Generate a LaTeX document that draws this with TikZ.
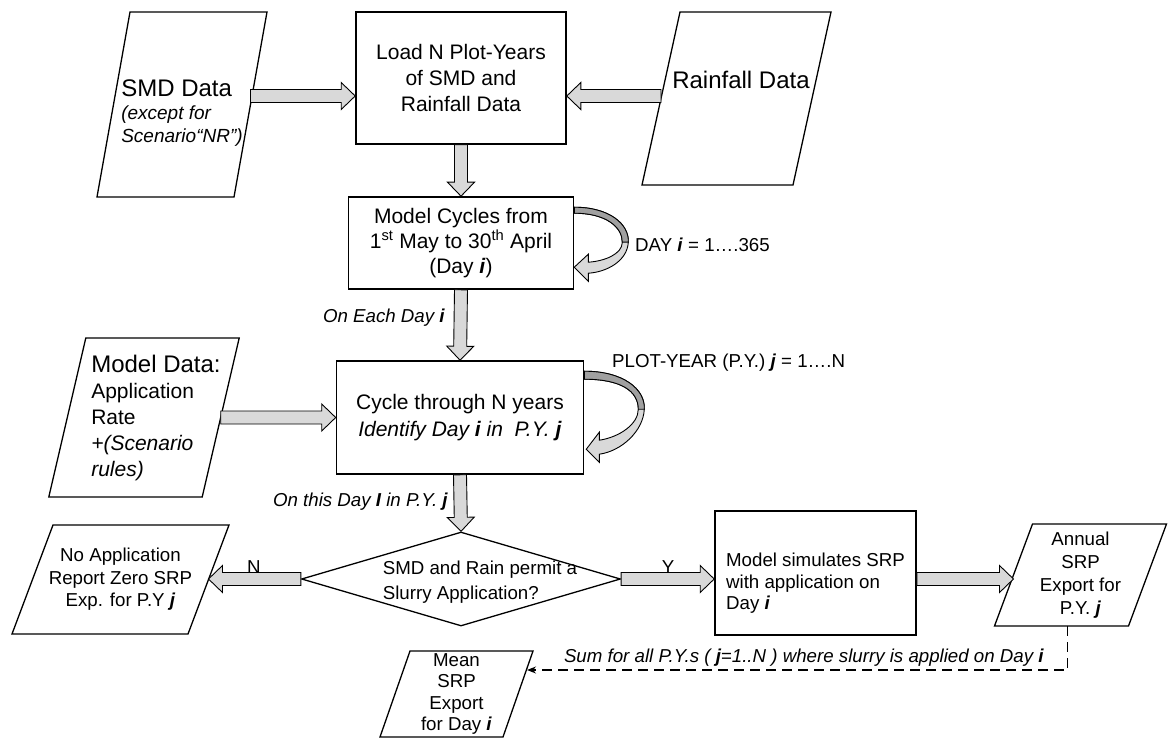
\documentclass[tikz,border=0pt]{standalone}
\usepackage{fontspec}
\setmainfont{Liberation Sans}
\usetikzlibrary{shapes.geometric,calc,arrows.meta}
\definecolor{arrowgray}{RGB}{217,217,217}
\definecolor{ribbongray}{RGB}{160,160,160}
\newcommand{\bi}[1]{\textbf{\textit{#1}}}
\newcommand{\ind}{\hspace*{24pt}}
% fat grey arrow between two points
\newcommand{\blockarrow}[2]{%
  \coordinate (ba-s) at (#1);
  \coordinate (ba-e) at (#2);
  \filldraw[blockarr] ($(ba-s)!6.5pt!90:(ba-e)$)
    -- ($(ba-e)!14pt!(ba-s)!6.5pt!90:(ba-e)$)
    -- ($(ba-e)!14pt!(ba-s)!13.5pt!90:(ba-e)$)
    -- (ba-e)
    -- ($(ba-e)!14pt!(ba-s)!13.5pt!-90:(ba-e)$)
    -- ($(ba-e)!14pt!(ba-s)!6.5pt!-90:(ba-e)$)
    -- ($(ba-s)!6.5pt!-90:(ba-e)$) -- cycle;}
% slanted data frame round a node, #2 = half of the slant
\newcommand{\slantframe}[2]{%
  \draw[dataline] ([xshift=-#2pt]#1.south west) -- ([xshift=#2pt]#1.north west)
    -- ([xshift=#2pt]#1.north east) -- ([xshift=-#2pt]#1.south east) -- cycle;}
\tikzset{
  procbox/.style={draw, rectangle, line width=1.6pt, inner sep=0pt, align=center,
    font=\fontsize{21}{26}\selectfont},
  databox/.style={rectangle, inner sep=0pt, outer sep=0pt,
    align=center, font=\fontsize{18.7}{22.5}\selectfont},
  dataline/.style={line width=1.3pt, line join=miter},
  lab/.style={inner sep=0pt, font=\fontsize{18.7}{22}\selectfont},
  blockarr/.style={fill=arrowgray, draw=black, line width=0.9pt, line join=miter},
  ribbon/.style={fill=arrowgray, draw=black, line width=0.9pt},
  sumline/.style={dashed, dash pattern=on 10pt off 6pt, line width=1.3pt, -{Stealth[length=9pt,width=7pt]}}
}
\begin{document}
\begin{tikzpicture}[x=1pt,y=-1pt]
\useasboundingbox (0,0) rectangle (1168,738);
% inputs
\node[databox, minimum width=137pt, minimum height=185pt, align=left,
  font=\fontsize{19}{22.5}\selectfont] (smd) at (182,104.5)
  {\rule{0pt}{33pt}{\fontsize{24}{24}\selectfont SMD Data}\\[1pt]\textit{(except for}\\\textit{Scenario“NR”)}};
\slantframe{smd}{16.5}
\node[procbox, minimum width=210pt, minimum height=132pt] (load) at (461,78)
  {Load N Plot-Years\\of SMD and\\Rainfall Data};
\node[databox, minimum width=151pt, minimum height=173pt,
  font=\fontsize{24}{28}\selectfont, text depth=38pt] (rain) at (736.5,98.5) {\hspace*{9pt}Rainfall Data};
\slantframe{rain}{19}
% main loop
\node[procbox, minimum width=225pt, minimum height=92pt, font=\fontsize{21}{25}\selectfont] (model) at (461,243)
  {Model Cycles from\\1\textsuperscript{st} May to 30\textsuperscript{th} April\\(Day \bi{i})};
\node[databox, minimum width=147pt, minimum height=159pt,
  align=left, font=\fontsize{21}{26}\selectfont] (mdata) at (144,417.5)
  {\ind{\fontsize{24}{26}\selectfont Model Data:}\\\ind Application\\\ind Rate\\\ind\textit{+(Scenario}\\\ind\textit{rules)}};
\slantframe{mdata}{18.5}
\node[procbox, minimum width=247pt, minimum height=113pt, font=\fontsize{21}{27}\selectfont] (cycle) at (460,417.5)
  {Cycle through N years\\\textit{Identify Day \textbf{i} in~ P.Y. \textbf{j}}};
% decision
\node[draw, diamond, line width=1.3pt, inner sep=0pt, minimum width=319pt, minimum height=94pt] (decide) at (461,579) {};
\node[lab, align=left, font=\fontsize{18.7}{25}\selectfont] (decidetxt) at (480,582)
  {SMD and Rain permit a\\Slurry Application?};
\node[databox, minimum width=176pt, minimum height=109pt] (noapp) at (120.5,579.5)
  {No Application\\Report Zero SRP\\Exp. for P.Y \bi{j}};
\slantframe{noapp}{20.5}
\node[procbox, minimum width=201pt, minimum height=124pt, align=left, font=\fontsize{18.7}{21.5}\selectfont] (sim) at (815.5,573)
  {\rule{0pt}{34pt}Model simulates SRP\\with application on\\Day \bi{i}};
\node[databox, minimum width=134pt, minimum height=102pt,
  font=\fontsize{18.7}{23}\selectfont] (annual) at (1080.5,575)
  {Annual\\SRP\\Export for\\P.Y. \bi{j}};
\slantframe{annual}{19}
\node[databox, minimum width=123pt, minimum height=86pt,
  font=\fontsize{18.7}{21.5}\selectfont] (mean) at (456.5,694)
  {Mean\\SRP\\Export\\for Day \bi{i}};
\slantframe{mean}{15}
% labels
\node[lab, anchor=west] (daylab) at (635,245) {DAY \bi{i} = 1….365};
\node[lab, anchor=west] (pylab) at (612,363) {PLOT-YEAR (P.Y.) \bi{j} = 1….N};
\node[lab] (eachlab) at (384,318) {\textit{On Each Day \textbf{i}}};
\node[lab] (thislab) at (360.5,502) {\textit{On this Day \textbf{I} in P.Y. \textbf{j}}};
\node[lab] (nlab) at (254,567) {N};
\node[lab] (ylab) at (668,567) {Y};
\node[lab] (sumlab) at (804,658) {\textit{Sum for all P.Y.s ( \textbf{j}=1..N ) where slurry is applied on Day \textbf{i}}};
% fat arrows
\blockarrow{smd.east |- 0,96}{load.west |- 0,96}
\blockarrow{rain.west |- 0,96}{load.east |- 0,96}
\blockarrow{load.south}{model.north}
\blockarrow{model.south}{cycle.north}
\blockarrow{mdata.east}{cycle.west}
\blockarrow{cycle.south}{decide.north}
\blockarrow{decide.west}{noapp.east |- decide.west}
\blockarrow{decide.east}{sim.west |- decide.east}
\blockarrow{sim.east |- decide.east}{annual.west |- decide.east}
% loops
\begin{scope}[shift={(model.north east)}]
  \filldraw[ribbon] (0,11) .. controls (35,11) and (55,28) .. (54,46) .. controls (53,65) and (32,76) .. (14,77)
    -- (14,85) -- (0,71) -- (14,58) -- (14,66) .. controls (30,65) and (48,58) .. (48,46)
    .. controls (48,31) and (32,17) .. (0,17) -- cycle;
  \filldraw[ribbon, fill=ribbongray] (0,11) .. controls (35,11) and (55,28) .. (54,46) -- (48,46)
    .. controls (48,31) and (32,17) .. (0,17) -- cycle;
\end{scope}
\begin{scope}[shift={(cycle.north east)}]
  \filldraw[ribbon] (0,11) .. controls (39,11) and (61,29) .. (60,49) .. controls (59,71) and (37,91) .. (15,94)
    -- (15,102) -- (2,89) -- (15,72) -- (15,80) .. controls (35,77) and (54,64) .. (54,49)
    .. controls (54,31) and (37,19) .. (0,19) -- cycle;
  \filldraw[ribbon, fill=ribbongray] (0,11) .. controls (39,11) and (61,29) .. (60,49) -- (54,49)
    .. controls (54,31) and (37,19) .. (0,19) -- cycle;
\end{scope}
% dashed sum
\coordinate (sumend) at (527,670);
\draw[sumline] ([xshift=-13pt]annual.south) |- (sumend);
\end{tikzpicture}
\end{document}
